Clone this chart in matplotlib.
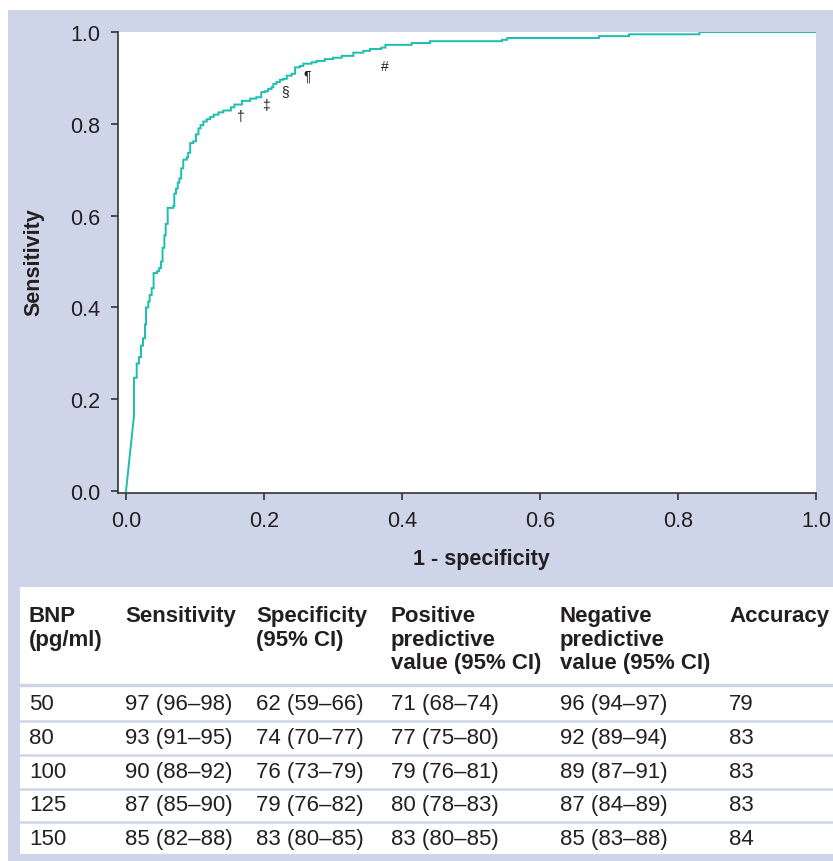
import matplotlib
matplotlib.use('Agg')
import matplotlib.pyplot as plt
from matplotlib.patches import Rectangle

plt.rcParams['font.family'] = ['Liberation Sans', 'DejaVu Sans']

# ROC curve: (1 - specificity, sensitivity) at each rise
fpr = [0.0, 0.0116, 0.0116, 0.0155, 0.0188, 0.0217, 0.0246, 0.0275, 0.0290,
       0.0323, 0.0343, 0.0372, 0.040, 0.045, 0.048, 0.0507, 0.053, 0.0556,
       0.0575, 0.0604, 0.0686, 0.070, 0.0725, 0.075, 0.0773, 0.080, 0.083,
       0.088, 0.090, 0.093, 0.0975, 0.1014, 0.105, 0.108, 0.112, 0.117,
       0.122, 0.127, 0.134, 0.141, 0.152, 0.157, 0.168, 0.180, 0.189, 0.196,
       0.201, 0.206, 0.211, 0.2135, 0.218, 0.223, 0.228, 0.233, 0.240, 0.245,
       0.252, 0.257, 0.269, 0.276, 0.288, 0.300, 0.3126, 0.3295, 0.344,
       0.3536, 0.370, 0.376, 0.414, 0.4406, 0.545, 0.5526, 0.6855, 0.729,
       0.831, 1.0]
tpr = [0.0, 0.165, 0.247, 0.278, 0.292, 0.317, 0.333, 0.363, 0.400,
       0.413, 0.427, 0.442, 0.475, 0.479, 0.486, 0.500, 0.530, 0.557,
       0.582, 0.617, 0.621, 0.648, 0.659, 0.672, 0.681, 0.703, 0.722,
       0.727, 0.737, 0.758, 0.762, 0.777, 0.790, 0.797, 0.805, 0.810,
       0.815, 0.820, 0.825, 0.829, 0.836, 0.842, 0.850, 0.855, 0.858, 0.869,
       0.871, 0.876, 0.880, 0.887, 0.891, 0.896, 0.898, 0.905, 0.909, 0.923,
       0.926, 0.931, 0.934, 0.937, 0.941, 0.944, 0.948, 0.955, 0.959,
       0.963, 0.966, 0.972, 0.976, 0.980, 0.983, 0.987, 0.991, 0.995,
       1.0, 1.0]

# cut-off markers on the curve
cut_symbols = ['#', '\u00b6', '\u00a7', '\u2021', '\u2020']
cut_x = [0.375, 0.262, 0.230, 0.2025, 0.165]
cut_y = [0.925, 0.905, 0.871, 0.840, 0.818]

# table
headers = ['BNP\n(pg/ml)', 'Sensitivity', 'Specificity\n(95% CI)',
           'Positive\npredictive\nvalue (95% CI)',
           'Negative\npredictive\nvalue (95% CI)', 'Accuracy']
bnp = ['50', '80', '100', '125', '150']
sensitivity = ['97 (96\u201398)', '93 (91\u201395)', '90 (88\u201392)',
               '87 (85\u201390)', '85 (82\u201388)']
specificity = ['62 (59\u201366)', '74 (70\u201377)', '76 (73\u201379)',
               '79 (76\u201382)', '83 (80\u201385)']
ppv = ['71 (68\u201374)', '77 (75\u201380)', '79 (76\u201381)',
       '80 (78\u201383)', '83 (80\u201385)']
npv = ['96 (94\u201397)', '92 (89\u201394)', '89 (87\u201391)',
       '87 (84\u201389)', '85 (83\u201388)']
accuracy = ['79', '83', '83', '83', '84']

LAV = '#CFD5E8'
TEAL = '#1DBDB0'
INK = '#231F20'

W, H = 833, 862
fig = plt.figure(figsize=(W / 100, H / 100), dpi=100)

# background panel and table, drawn in pixel units
bg = fig.add_axes([0, 0, 1, 1], zorder=0)
bg.set_xlim(0, W)
bg.set_ylim(H, 0)
bg.axis('off')
bg.add_patch(Rectangle((8, 11), W - 8, H - 11, color=LAV, lw=0))
bg.add_patch(Rectangle((20, 588), W - 20, 267, color='white', lw=0))

col_x = [29, 125, 256, 391, 560, 729]
for x, h in zip(col_x, headers):
    bg.text(x, 606, h, fontsize=16, fontweight='bold', color=INK,
            va='top', ha='left', linespacing=1.17)

bg.plot([20, W], [686, 686], color=LAV, lw=2.5)
row_y = [705, 739, 773, 806, 840]
columns = [bnp, sensitivity, specificity, ppv, npv, accuracy]
for i, y in enumerate(row_y):
    for x, col in zip(col_x, columns):
        bg.text(x, y, col[i], fontsize=16, color=INK, va='center', ha='left')
    if i < len(row_y) - 1:
        bg.plot([20, W], [y + 17, y + 17], color=LAV, lw=1.8)

# ROC plot
ax = fig.add_axes([118 / W, 1 - 494 / H, 698 / W, 461 / H], zorder=1)
ax.set_facecolor('white')

xs, ys = [fpr[0]], [tpr[0]]
for i in range(1, len(fpr)):
    if i > 1:
        xs.append(fpr[i])
        ys.append(tpr[i - 1])
    xs.append(fpr[i])
    ys.append(tpr[i])
ax.plot(xs, ys, color=TEAL, lw=1.4, solid_joinstyle='miter')

for s, x, y in zip(cut_symbols, cut_x, cut_y):
    ax.text(x, y, s, fontsize=10, color=INK, ha='center', va='center')

ax.set_xlim(-0.0116, 1.0)
ax.set_ylim(-0.004, 1.0)
ax.set_xticks([0.0, 0.2, 0.4, 0.6, 0.8, 1.0])
ax.set_yticks([0.0, 0.2, 0.4, 0.6, 0.8, 1.0])
ax.spines[['top', 'right']].set_visible(False)
for side in ['left', 'bottom']:
    ax.spines[side].set_color('#333333')
    ax.spines[side].set_linewidth(1.2)
ax.tick_params(direction='out', length=5, width=1.2, color='#333333',
               labelsize=15.5, labelcolor=INK)
ax.tick_params(axis='y', pad=8)
ax.tick_params(axis='x', pad=7)

ax.set_xlabel('1 - specificity', fontsize=15.5, fontweight='bold', color=INK)
ax.set_ylabel('Sensitivity', fontsize=15.5, fontweight='bold', color=INK)
ax.xaxis.set_label_coords(0.52, -0.12)
ax.yaxis.set_label_coords(-0.106, 0.503)

fig.savefig('out.png', dpi=100)
